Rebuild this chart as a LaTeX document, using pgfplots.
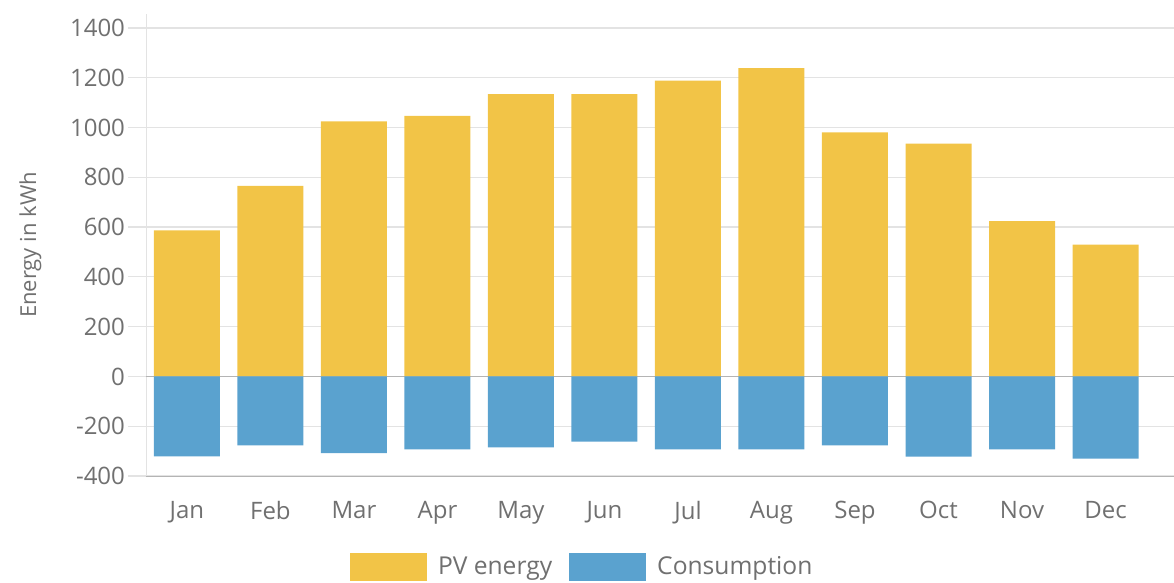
\documentclass[border=0pt]{standalone}
\usepackage{fontspec}
\setmainfont{Open Sans}
\usepackage{pgfplots}
\pgfplotsset{compat=1.18}
\definecolor{pvyellow}{HTML}{F2C447}
\definecolor{consblue}{HTML}{5AA2CF}
\definecolor{txtgray}{HTML}{707070}
\definecolor{gridgray}{HTML}{E3E3E3}
\definecolor{zerogray}{HTML}{B4B4B4}

\begin{document}
\begin{tikzpicture}
\begin{axis}[
  scale only axis,
  width=514pt, height=231pt,
  xmin=-0.49, xmax=11.82,
  ymin=-400, ymax=1456,
  axis x line*=bottom, axis y line*=left,
  x axis line style={draw=zerogray, -},
  y axis line style={draw=gridgray, -},
  xtick={0,...,11},
  xticklabels={Jan,Feb,Mar,Apr,May,Jun,Jul,Aug,Sep,Oct,Nov,Dec},
  major x tick style={draw=none},
  ytick={-400,-200,...,1400},
  tick align=outside,
  major y tick style={draw=gridgray, line width=0.6pt},
  major tick length=9pt,
  ymajorgrids, grid style={draw=gridgray, line width=0.6pt},
  extra y ticks={0}, extra y tick labels={},
  extra y tick style={grid style={draw=zerogray, line width=0.6pt}, major tick length=0pt},
  yticklabel style={font=\fontsize{12}{14}\selectfont, text=txtgray, xshift=2pt},
  xticklabel style={font=\fontsize{12}{14}\selectfont, text=txtgray, yshift=0pt},
  /pgf/number format/assume math mode=true,
  /pgf/number format/1000 sep={},
  ylabel={Energy in kWh},
  ylabel style={font=\fontsize{11}{13}\selectfont, text=txtgray, yshift=-1.5pt},
  ybar, bar width=33pt, bar shift=0pt,
  clip=false,
  legend columns=2,
  legend style={at={(rel axis cs:0.4253,0)}, anchor=center, yshift=-45.5pt, draw=none,
    font=\fontsize{12.3}{14}\selectfont, text=txtgray,
    /tikz/every odd column/.append style={column sep=3.5pt},
    /tikz/every even column/.append style={column sep=6.5pt}},
  legend image code/.code={\fill[#1] (0pt,-7pt) rectangle (38.5pt,7pt);},
]
\addplot[fill=pvyellow, draw=none] coordinates
 {(0,587) (1,765) (2,1025) (3,1047) (4,1134) (5,1134) (6,1188) (7,1239) (8,980) (9,935) (10,624) (11,529)};
\addlegendentry{PV energy}
\addplot[fill=consblue, draw=none] coordinates
 {(0,-321) (1,-277) (2,-308) (3,-293) (4,-285) (5,-262) (6,-293) (7,-293) (8,-277) (9,-322) (10,-293) (11,-330)};
\addlegendentry{Consumption}
\path (rel axis cs:0,0) ++(-73pt,-53.5pt) coordinate (bl);
\path (rel axis cs:1,1) ++(0pt,7pt) coordinate (tr);
\end{axis}
\pgfresetboundingbox
\path[use as bounding box] (bl) rectangle (tr);
\end{tikzpicture}
\end{document}
